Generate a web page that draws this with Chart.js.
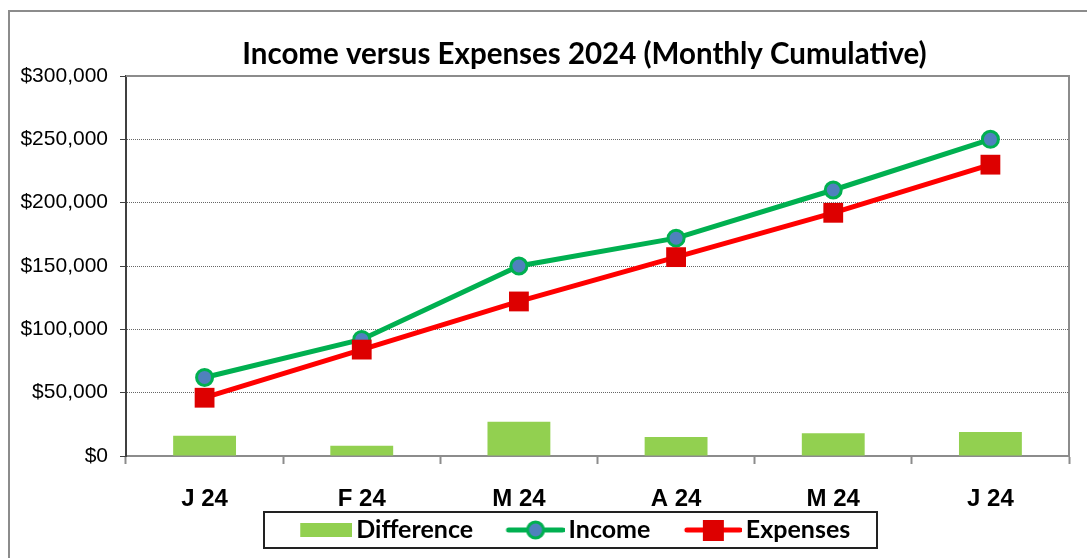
<!DOCTYPE html>
<html>
<head>
<meta charset="utf-8">
<title>Income versus Expenses 2024</title>
<script src="https://cdn.jsdelivr.net/npm/chart.js@4.4.1/dist/chart.umd.min.js"></script>
<style>
  body { margin: 0; background: #fff; }
</style>
</head>
<body>
<canvas id="incomeChart" width="1087" height="558"></canvas>
<script>
// values (cumulative, in $)
const months = ['J 24', 'F 24', 'M 24', 'A 24', 'M 24', 'J 24'];
const income = [62000, 92000, 150000, 172000, 210000, 250000];
const expenses = [46000, 84000, 122000, 157000, 192000, 230000];
const difference = [16000, 8000, 27000, 15000, 18000, 19000];

const GREEN_BAR = '#92D050';
const GREEN_LINE = '#00B050';
const BLUE_DOT = '#4F81BD';
const RED_LINE = '#FF0000';
const RED_BOX = '#DD0000';

const LEGEND_FONT = 25;
const BOX_W = 73;
// icon ends 4px before the label text
const ICON_END = BOX_W + LEGEND_FONT / 2 - 4;

// legend icons: canvases used as point styles (drawn centred on the box)
function legendIcon(visW, draw) {
  const half = ICON_END - BOX_W / 2;
  const c = document.createElement('canvas');
  c.width = Math.ceil(half * 2);
  c.height = 26;
  const g = c.getContext('2d');
  draw(g, half * 2 - visW, 13, visW);
  return c;
}
const iconDiff = legendIcon(52, (g, x, y, w) => {
  g.fillStyle = GREEN_BAR;
  g.fillRect(x, y - 7, w, 14);
});
const iconIncome = legendIcon(58, (g, x, y, w) => {
  g.strokeStyle = GREEN_LINE;
  g.lineWidth = 5;
  g.lineCap = 'round';
  g.beginPath(); g.moveTo(x + 2, y); g.lineTo(x + w - 2, y); g.stroke();
  g.beginPath(); g.arc(x + w / 2, y, 8, 0, Math.PI * 2);
  g.fillStyle = BLUE_DOT; g.fill();
  g.lineWidth = 3; g.stroke();
});
const iconExpenses = legendIcon(57, (g, x, y, w) => {
  g.strokeStyle = RED_LINE;
  g.lineWidth = 5;
  g.lineCap = 'round';
  g.beginPath(); g.moveTo(x + 2, y); g.lineTo(x + w - 2, y); g.stroke();
  g.fillStyle = RED_BOX;
  g.fillRect(Math.round(x + w / 2 - 10.5), y - 10, 21, 21);
});

// grey chart frame
const outerFrame = {
  id: 'outerFrame',
  beforeDraw(chart) {
    const ctx = chart.ctx;
    ctx.save();
    ctx.strokeStyle = '#8C8C8C';
    ctx.lineWidth = 2;
    ctx.strokeRect(9, 11, 1200, 700);
    ctx.restore();
  }
};

// plot area top and right edges
const plotFrame = {
  id: 'plotFrame',
  beforeDatasetsDraw(chart) {
    const {ctx, chartArea: a} = chart;
    ctx.save();
    ctx.strokeStyle = '#8C8C8C';
    ctx.lineWidth = 2;
    ctx.beginPath();
    ctx.moveTo(a.left, a.top);
    ctx.lineTo(a.right, a.top);
    ctx.lineTo(a.right, a.bottom);
    ctx.stroke();
    ctx.restore();
  }
};

// box round the legend
const legendFrame = {
  id: 'legendFrame',
  afterDraw(chart) {
    const boxes = chart.legend.legendHitBoxes;
    if (!boxes || !boxes.length) return;
    const first = boxes[0], last = boxes[boxes.length - 1];
    const left = Math.round(first.left + (ICON_END - 52) - 36);
    const right = Math.round(last.left + last.width + 27);
    const top = 512;
    const bottom = 548;
    const ctx = chart.ctx;
    ctx.save();
    ctx.strokeStyle = '#222';
    ctx.lineWidth = 2;
    ctx.strokeRect(left, top, right - left, bottom - top);
    ctx.restore();
  }
};

// title and legend sit right of the canvas centre, as in the original
const shiftBlocks = {
  id: 'shiftBlocks',
  afterLayout(chart) {
    chart.titleBlock.left += 50;
    chart.titleBlock.right += 50;
    chart.legend.left += 26;
    chart.legend.right += 26;
  }
};

const ctx = document.getElementById('incomeChart').getContext('2d');
const chart = new Chart(ctx, {
  data: {
    labels: months,
    datasets: [
      {
        type: 'bar',
        label: 'Difference',
        data: difference,
        backgroundColor: GREEN_BAR,
        borderWidth: 0,
        barPercentage: 0.4,
        categoryPercentage: 1,
        order: 3
      },
      {
        type: 'line',
        label: 'Income',
        data: income,
        borderColor: GREEN_LINE,
        borderWidth: 5,
        tension: 0,
        pointStyle: 'circle',
        pointRadius: 8,
        pointBorderWidth: 3,
        pointBorderColor: GREEN_LINE,
        pointBackgroundColor: BLUE_DOT,
        order: 2
      },
      {
        type: 'line',
        label: 'Expenses',
        data: expenses,
        borderColor: RED_LINE,
        borderWidth: 5,
        tension: 0,
        pointStyle: 'rect',
        pointRadius: 14,
        pointBorderWidth: 0,
        pointBorderColor: RED_BOX,
        pointBackgroundColor: RED_BOX,
        order: 1
      }
    ]
  },
  options: {
    responsive: false,
    animation: false,
    layout: { padding: { left: 0, right: 18, top: 0, bottom: 5.5 } },
    plugins: {
      title: {
        display: true,
        text: 'Income versus Expenses 2024 (Monthly Cumulative)',
        color: '#000',
        font: { family: 'Lato', size: 29.5, weight: 'bold' },
        padding: { top: 37, bottom: 3.6 }
      },
      legend: {
        position: 'bottom',
        labels: {
          usePointStyle: true,
          pointStyleWidth: BOX_W,
          padding: 10,
          color: '#000',
          font: { family: 'Lato', size: LEGEND_FONT, weight: 'bold' },
          generateLabels: () => [
            { text: 'Difference', pointStyle: iconDiff, fillStyle: 'transparent', strokeStyle: 'transparent', lineWidth: 0, hidden: false, datasetIndex: 0 },
            { text: 'Income', pointStyle: iconIncome, fillStyle: 'transparent', strokeStyle: 'transparent', lineWidth: 0, hidden: false, datasetIndex: 1 },
            { text: 'Expenses', pointStyle: iconExpenses, fillStyle: 'transparent', strokeStyle: 'transparent', lineWidth: 0, hidden: false, datasetIndex: 2 }
          ]
        }
      },
      tooltip: { enabled: false }
    },
    scales: {
      x: {
        offset: true,
        grid: {
          offset: true,
          drawOnChartArea: false,
          drawTicks: true,
          tickLength: 8,
          tickColor: '#8C8C8C',
          tickWidth: 2
        },
        border: { color: '#8C8C8C', width: 2 },
        ticks: {
          color: '#000',
          padding: 21,
          font: { family: 'Liberation Sans', size: 24, weight: 'bold' }
        },
        afterFit: (scale) => { scale.height = 51.5; }
      },
      y: {
        min: 0,
        max: 300000,
        grid: {
          color: '#666',
          lineWidth: 1,
          tickLength: 6,
          tickColor: '#404040',
          tickWidth: 1
        },
        border: { color: '#404040', width: 2, dash: [1, 1] },
        ticks: {
          stepSize: 50000,
          color: '#000',
          padding: 12,
          font: { family: 'Liberation Sans', size: 21 },
          callback: (v) => '$' + v.toLocaleString('en-US')
        },
        afterFit: (scale) => { scale.width = 126; }
      }
    }
  },
  plugins: [outerFrame, plotFrame, legendFrame, shiftBlocks]
});
</script>
</body>
</html>
